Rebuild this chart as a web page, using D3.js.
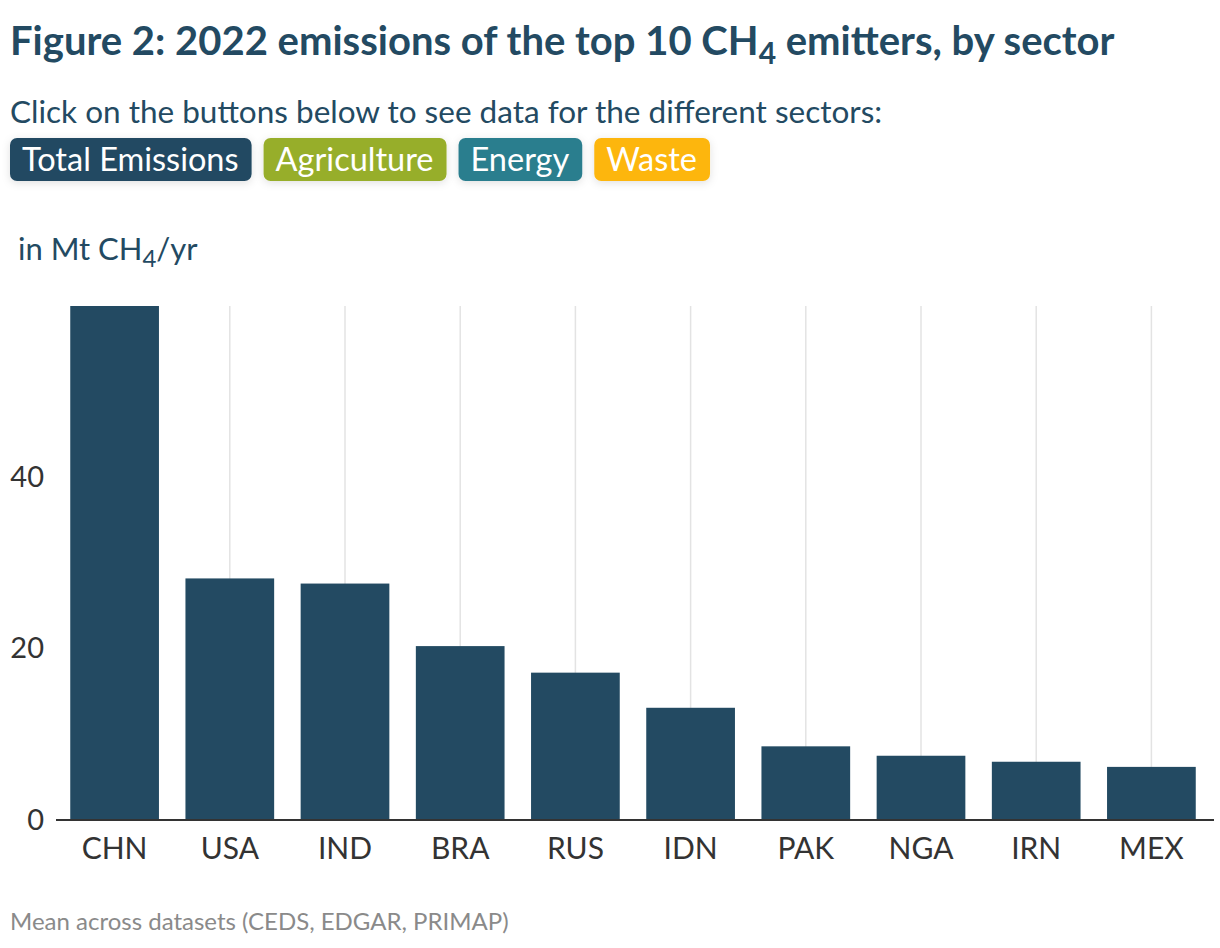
<!DOCTYPE html>
<html>
<head>
<meta charset="utf-8">
<script src="https://cdn.jsdelivr.net/npm/d3@7"></script>
<style>
  body { margin: 0; background: #fff; font-family: Lato, "Noto Sans", sans-serif; }
  #graf { width: 1220px; height: 948px; }
</style>
</head>
<body>
<div id="graf"></div>
<script>
const paises = ["CHN", "USA", "IND", "BRA", "RUS", "IDN", "PAK", "NGA", "IRN", "MEX"]
const totales = [60.0, 28.2, 27.6, 20.3, 17.2, 13.1, 8.6, 7.5, 6.8, 6.2]
const ticksY = [0, 20, 40]
const botones = [
  { nombre: "Total Emissions", color: "#234a62" },
  { nombre: "Agriculture", color: "#97ae2b" },
  { nombre: "Energy", color: "#2b7e8e" },
  { nombre: "Waste", color: "#fdb60e" },
]

const azul = "#234a62"
const anchoTotal = 1220
const altoTotal = 948

const svg = d3.select("#graf")
  .append("svg")
  .attr("width", anchoTotal)
  .attr("height", altoTotal)
  .style("font-family", "Lato, 'Noto Sans', sans-serif")

// sombra de los botones
const defs = svg.append("defs")
const f = defs.append("filter").attr("id", "sombra")
  .attr("x", "-20%").attr("y", "-40%").attr("width", "140%").attr("height", "180%")
f.append("feDropShadow").attr("dx", 0).attr("dy", 2).attr("stdDeviation", 4)
  .attr("flood-color", "#000").attr("flood-opacity", 0.12)

// titulo
const titulo = svg.append("text")
  .attr("x", 10).attr("y", 55)
  .attr("fill", azul)
  .attr("font-size", 40)
  .attr("font-weight", 700)
titulo.append("tspan").text("Figure 2: 2022 emissions of the top 10 CH")
titulo.append("tspan").text("4").attr("font-size", 30).attr("dy", 9)
titulo.append("tspan").text(" emitters, by sector").attr("dy", -9)

svg.append("text")
  .attr("x", 10).attr("y", 123)
  .attr("fill", azul)
  .attr("font-size", 31.5)
  .text("Click on the buttons below to see data for the different sectors:")

// botones
let bx = 10
botones.forEach((b) => {
  const g = svg.append("g").attr("transform", `translate(${bx},138)`)
  const r = g.append("rect")
    .attr("height", 43)
    .attr("rx", 7)
    .attr("fill", b.color)
    .attr("filter", "url(#sombra)")
  const t = g.append("text")
    .attr("x", 12).attr("y", 33)
    .attr("fill", "#fff")
    .attr("font-size", 32.5)
    .text(b.nombre)
  const w = t.node().getComputedTextLength() + 25
  r.attr("width", w)
  bx += w + 12
})

// etiqueta eje y
const ety = svg.append("text")
  .attr("x", 18).attr("y", 260)
  .attr("fill", azul)
  .attr("font-size", 31)
ety.append("tspan").text("in Mt CH")
ety.append("tspan").text("4").attr("font-size", 24).attr("dy", 7)
ety.append("tspan").text("/yr").attr("dy", -7)

// escalas
const x = d3.scaleBand()
  .domain(paises)
  .range([57, 1209])
  .paddingInner(0.23)
  .paddingOuter(0.115)

const y = d3.scaleLinear()
  .domain([0, 60])
  .range([820, 306])

// lineas verticales
svg.append("g")
  .selectAll("line")
  .data(paises)
  .enter()
  .append("line")
  .attr("x1", (d) => x(d) + x.bandwidth() / 2)
  .attr("x2", (d) => x(d) + x.bandwidth() / 2)
  .attr("y1", y(60))
  .attr("y2", y(0))
  .attr("stroke", "#e3e3e3")
  .attr("stroke-width", 1.5)

// barras
svg.append("g")
  .selectAll("rect")
  .data(totales)
  .enter()
  .append("rect")
  .attr("x", (d, i) => x(paises[i]))
  .attr("width", x.bandwidth())
  .attr("y", (d) => y(d))
  .attr("height", (d) => y(0) - y(d))
  .attr("fill", azul)

// eje x
const ejeX = svg.append("g")
  .attr("transform", `translate(0,${y(0)})`)
  .call(d3.axisBottom(x).tickSize(0).tickPadding(18))
ejeX.select(".domain").attr("stroke", "#333").attr("stroke-width", 2)
  .attr("d", "M56,0H1214")
ejeX.selectAll("text")
  .attr("font-family", "Lato, 'Noto Sans', sans-serif")
  .attr("font-size", 30)
  .attr("fill", "#333")

// eje y
const ejeY = svg.append("g")
  .attr("transform", "translate(44,0)")
  .call(d3.axisLeft(y).tickValues(ticksY).tickSize(0).tickPadding(0))
ejeY.select(".domain").remove()
ejeY.selectAll("text")
  .attr("font-family", "Lato, 'Noto Sans', sans-serif")
  .attr("font-size", 29)
  .attr("fill", "#333")

// nota
svg.append("text")
  .attr("x", 10).attr("y", 930)
  .attr("fill", "#8a8a8a")
  .attr("font-size", 24)
  .text("Mean across datasets (CEDS, EDGAR, PRIMAP)")
</script>
</body>
</html>
